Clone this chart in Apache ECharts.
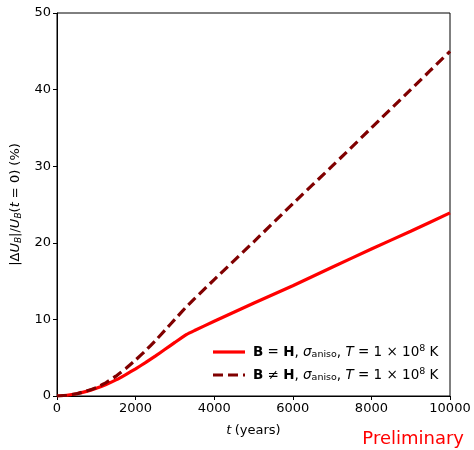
<!DOCTYPE html>
<html><head><meta charset="utf-8">
<script src="https://cdn.jsdelivr.net/npm/echarts@6/dist/echarts.min.js"></script>
<style>html,body{margin:0;padding:0;background:#fff}#c{width:474px;height:450px}</style>
</head><body><div id="c"></div>
<script>
const times = [0,250,500,750,1000,1250,1500,1750,2000,2250,2500,2750,3000,3300,3500,4000,5000,6000,7000,8000,9000,10000];
const seriesBH = [0,0.1,0.3,0.6,1.0,1.5,2.1,2.8,3.55,4.35,5.2,6.1,7.0,8.05,8.55,9.75,12.1,14.4,16.8,19.2,21.5,23.9];
const seriesBneH = [0,0.1,0.3,0.65,1.1,1.75,2.6,3.6,4.7,5.9,7.2,8.6,10.0,11.7,12.7,15.2,20.1,25.1,30.0,35.0,40.0,45.0];
const legendNames = ['B = H', 'B ≠ H'];

const font = 'DejaVu Sans';
const chart = echarts.init(document.getElementById('c'), null, {renderer:'canvas'});
const pair = (xs, ys) => xs.map((x,i)=>[x, ys[i]]);
const rich = {
  b:{fontWeight:'bold', fontFamily:font, fontSize:13.5, fill:'#000', color:'#000'},
  i:{fontStyle:'italic', fontFamily:font, fontSize:13.5, fill:'#000', color:'#000'},
  s:{fontFamily:font, fontSize:9.5, fill:'#000', color:'#000', padding:[6,0,0,0]},
  sup:{fontFamily:font, fontSize:9.5, fill:'#000', color:'#000', padding:[0,0,7,0]},
  n:{fontFamily:font, fontSize:13.5, fill:'#000', color:'#000'}
};
const legendText = rel => '{b|B}{n|'+rel+'}{b|H}{n|, }{i|σ}{s|aniso}{n|, }{i|T}{n| = 1 × 10}{sup|8}{n| K}';
chart.setOption({
  animation:false,
  grid:{left:57, right:24, top:13, bottom:54, show:true, borderColor:'#000', borderWidth:1},
  xAxis:{type:'value', min:0, max:10000, interval:2000,
    name:'{i|t} {n|(years)}', nameLocation:'middle', nameGap:28,
    nameTextStyle:{rich:{i:{fontStyle:'italic',fontFamily:font,fontSize:13,color:'#000'}, n:{fontFamily:font,fontSize:13,color:'#000'}}},
    axisLine:{lineStyle:{color:'#000'}}, axisTick:{inside:false,length:4,lineStyle:{color:'#000'}},
    axisLabel:{fontFamily:font, fontSize:13, color:'#000', margin:6, formatter:v=>String(v)},
    splitLine:{show:false}},
  yAxis:{type:'value', min:0, max:50, interval:10,
    name:'{n||Δ}{i|U}{s|B}{n||/}{i|U}{s|B}{n|(}{i|t}{n| = 0) (%)}', nameLocation:'middle', nameGap:31, nameRotate:90,
    nameTextStyle:{rich:{
      n:{fontFamily:font,fontSize:13,color:'#000'},
      i:{fontStyle:'italic',fontFamily:font,fontSize:13,color:'#000'},
      s:{fontStyle:'italic',fontFamily:font,fontSize:9,color:'#000',padding:[6,0,0,0]}}},
    axisLine:{lineStyle:{color:'#000'}}, axisTick:{inside:false,length:4,lineStyle:{color:'#000'}},
    axisLabel:{fontFamily:font, fontSize:13, color:'#000', margin:6},
    splitLine:{show:false}},
  series:[
    {name:legendNames[0], type:'line', data:pair(times, seriesBH), showSymbol:false, symbol:'none', smooth:0.12,
      lineStyle:{color:'#ff0000', width:3.2}, itemStyle:{color:'#ff0000'}},
    {name:legendNames[1], type:'line', data:pair(times, seriesBneH), showSymbol:false, symbol:'none', smooth:0.12,
      lineStyle:{color:'#800000', width:3.2, type:[10,5]}, itemStyle:{color:'#800000'}}
  ],
  graphic:[
    {type:'line', shape:{x1:213,y1:352,x2:245,y2:352}, style:{stroke:'#ff0000', lineWidth:3.2}},
    {type:'line', shape:{x1:213,y1:375,x2:245,y2:375}, style:{stroke:'#800000', lineWidth:3.2, lineDash:[10,5]}},
    {type:'text', x:253, y:352, style:{text:legendText(' = '), rich:rich, verticalAlign:'middle', align:'left'}},
    {type:'text', x:253, y:375, style:{text:legendText(' ≠ '), rich:rich, verticalAlign:'middle', align:'left'}},
    {type:'text', right:10, top:430, style:{text:'Preliminary', fill:'#ff0000', font:'18px "DejaVu Sans"'}}
  ]
});
</script></body></html>
